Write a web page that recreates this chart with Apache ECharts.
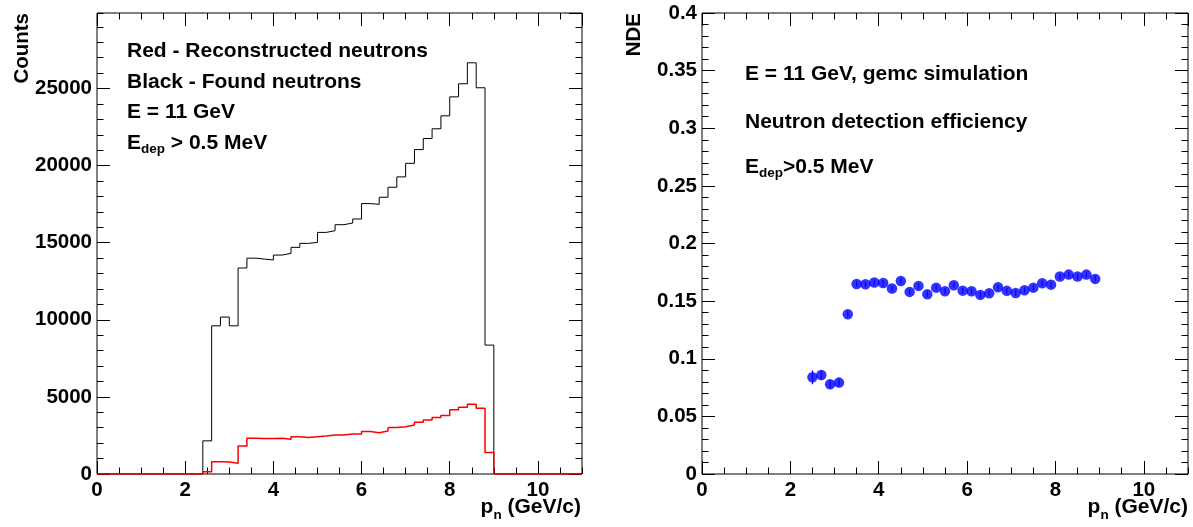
<!DOCTYPE html>
<html>
<head>
<meta charset="utf-8">
<script src="https://cdn.jsdelivr.net/npm/echarts@6/dist/echarts.min.js"></script>
<style>
  html, body { margin: 0; padding: 0; background: #ffffff; }
  #chart { width: 1193px; height: 527px; }
</style>
</head>
<body>
<div id="chart"></div>
<script>
// ---- Momentum histogram: lower bin edges (GeV/c), bins are 0.2 wide ----
const binLow = [2.4, 2.6, 2.8, 3.0, 3.2, 3.4, 3.6, 3.8, 4.0, 4.2, 4.4, 4.6, 4.8,
                5.0, 5.2, 5.4, 5.6, 5.8, 6.0, 6.2, 6.4, 6.6, 6.8, 7.0, 7.2, 7.4,
                7.6, 7.8, 8.0, 8.2, 8.4, 8.6, 8.8];
const binHigh = 9.0;

// Found neutrons (black)
const foundCounts = [2150, 9610, 10180, 9610, 13360, 14000, 13940, 13880, 14200, 14310, 14700, 14960, 15020,
                     15670, 15780, 16170, 16280, 16540, 17540, 17490, 17950, 18600, 19270, 20150, 21040, 21760,
                     22390, 23230, 24460, 25310, 26670, 25050, 8360];

// Reconstructed neutrons (red)
const recoCounts = [150, 800, 780, 690, 1820, 2320, 2300, 2300, 2320, 2250, 2420, 2360, 2420,
                    2470, 2530, 2530, 2600, 2600, 2750, 2680, 2790, 3010, 3070, 3180, 3350, 3510,
                    3660, 3790, 4160, 4330, 4520, 4260, 1390];

// ---- Neutron detection efficiency vs momentum ----
const ndeP = [2.5, 2.7, 2.9, 3.1, 3.3, 3.5, 3.7, 3.9, 4.1, 4.3, 4.5, 4.7, 4.9,
              5.1, 5.3, 5.5, 5.7, 5.9, 6.1, 6.3, 6.5, 6.7, 6.9, 7.1, 7.3, 7.5,
              7.7, 7.9, 8.1, 8.3, 8.5, 8.7, 8.9];
const ndeVal = [0.0839, 0.0859, 0.0779, 0.0793, 0.1386, 0.1649, 0.1647, 0.1661, 0.1658, 0.1609, 0.1675, 0.1580, 0.1632,
                0.1560, 0.1617, 0.1586, 0.1638, 0.1591, 0.1586, 0.1554, 0.1569, 0.1620, 0.1589, 0.1571, 0.1594, 0.1617,
                0.1655, 0.1643, 0.1713, 0.1730, 0.1713, 0.1730, 0.1693];
const ndeErr = [0.0060, 0.0040, 0.0035, 0.0035, 0.0030, 0.0025, 0.0025, 0.0025, 0.0025, 0.0025, 0.0025, 0.0025, 0.0025,
                0.0025, 0.0025, 0.0025, 0.0025, 0.0025, 0.0025, 0.0025, 0.0025, 0.0025, 0.0025, 0.0025, 0.0025, 0.0025,
                0.0025, 0.0025, 0.0025, 0.0025, 0.0025, 0.0025, 0.0025];

// Axis ranges and tick steps
const xRange = [0, 11];
const xMajor = 2, xMinor = 0.5;
const countsMax = 29900, countsMajor = 5000, countsMinor = 1000;
const ndeMax = 0.4, ndeMajor = 0.05, ndeMinor = 0.01;

const FONT = '"Liberation Sans", Arial, Helvetica, sans-serif';
const LABEL_SIZE = 20.5;

// Histogram outline: step line from lower edges, closed down to zero at both ends
function histPoints(counts) {
  const pts = [[xRange[0], 0]];
  for (let i = 0; i < binLow.length; i++) pts.push([binLow[i], counts[i]]);
  pts.push([binHigh, 0]);
  pts.push([xRange[1], 0]);
  return pts;
}

const tickStyle = { color: '#000', width: 1 };

// Axes: main (labels + long ticks) and minor (short ticks), mirrored on the opposite side
function xAxesFor(grid) {
  const base = {
    type: 'value', gridIndex: grid, min: xRange[0], max: xRange[1],
    axisLine: { show: false, onZero: false }, splitLine: { show: false }
  };
  return [
    Object.assign({}, base, {
      position: 'bottom', interval: xMajor,
      axisTick: { inside: true, length: 13, lineStyle: tickStyle },
      axisLabel: { show: true, margin: 6, color: '#000', fontFamily: FONT, fontWeight: 'bold',
                   fontSize: LABEL_SIZE, showMaxLabel: false }
    }),
    Object.assign({}, base, {
      position: 'bottom', interval: xMinor,
      axisTick: { inside: true, length: 6.5, lineStyle: tickStyle },
      axisLabel: { show: false }
    }),
    Object.assign({}, base, {
      position: 'top', interval: xMajor,
      axisTick: { inside: true, length: 13, lineStyle: tickStyle },
      axisLabel: { show: false }
    }),
    Object.assign({}, base, {
      position: 'top', interval: xMinor,
      axisTick: { inside: true, length: 6.5, lineStyle: tickStyle },
      axisLabel: { show: false }
    })
  ];
}

function yAxesFor(grid, max, major, minor, showMax) {
  const base = {
    type: 'value', gridIndex: grid, min: 0, max: max,
    axisLine: { show: false, onZero: false }, splitLine: { show: false }
  };
  return [
    Object.assign({}, base, {
      position: 'left', interval: major,
      axisTick: { inside: true, length: 13, lineStyle: tickStyle },
      axisLabel: { show: true, margin: 5, color: '#000', fontFamily: FONT, fontWeight: 'bold',
                   fontSize: LABEL_SIZE, showMaxLabel: showMax,
                   formatter: function (v) { return String(v); } }
    }),
    Object.assign({}, base, {
      position: 'left', interval: minor,
      axisTick: { inside: true, length: 6.5, lineStyle: tickStyle },
      axisLabel: { show: false }
    }),
    Object.assign({}, base, {
      position: 'right', interval: major,
      axisTick: { inside: true, length: 13, lineStyle: tickStyle },
      axisLabel: { show: false }
    }),
    Object.assign({}, base, {
      position: 'right', interval: minor,
      axisTick: { inside: true, length: 6.5, lineStyle: tickStyle },
      axisLabel: { show: false }
    })
  ];
}

// Text pieces with subscripts, laid out using measured widths
const measureCtx = document.createElement('canvas').getContext('2d');
function textWidth(str, size) {
  measureCtx.font = 'bold ' + size + 'px ' + FONT;
  return measureCtx.measureText(str).width;
}
function runText(parts, x, y, align) {
  const total = parts.reduce((w, p) => w + textWidth(p.t, p.s), 0);
  let cx = align === 'right' ? x - total : x;
  const out = [];
  parts.forEach(p => {
    out.push({
      type: 'text', x: cx, y: y + (p.dy || 0), z: 100,
      style: { text: p.t, fill: '#000', font: 'bold ' + p.s + 'px ' + FONT,
               align: 'left', verticalAlign: 'middle' }
    });
    cx += textWidth(p.t, p.s);
  });
  return out;
}
function verticalTitle(str, x, yTop) {
  return {
    type: 'text', x: x, y: yTop, rotation: Math.PI / 2, z: 100,
    style: { text: str, fill: '#000', font: 'bold ' + LABEL_SIZE + 'px ' + FONT,
             align: 'right', verticalAlign: 'middle' }
  };
}

const NOTE = 21, SUB = 13.5;
const graphics = [].concat(
  runText([{ t: 'Red - Reconstructed neutrons', s: NOTE }], 127, 51, 'left'),
  runText([{ t: 'Black - Found neutrons', s: NOTE }], 127, 82, 'left'),
  runText([{ t: 'E = 11 GeV', s: NOTE }], 127, 112, 'left'),
  runText([{ t: 'E', s: NOTE }, { t: 'dep', s: SUB, dy: 6 }, { t: ' > 0.5 MeV', s: NOTE }], 127, 143, 'left'),
  runText([{ t: 'E = 11 GeV, gemc simulation', s: NOTE }], 745, 74, 'left'),
  runText([{ t: 'Neutron detection efficiency', s: NOTE }], 745, 122, 'left'),
  runText([{ t: 'E', s: NOTE }, { t: 'dep', s: SUB, dy: 6 }, { t: '>0.5 MeV', s: NOTE }], 745, 167, 'left'),
  runText([{ t: 'p', s: NOTE }, { t: 'n', s: SUB, dy: 8 }, { t: ' (GeV/c)', s: NOTE }], 581, 507, 'right'),
  runText([{ t: 'p', s: NOTE }, { t: 'n', s: SUB, dy: 8 }, { t: ' (GeV/c)', s: NOTE }], 1188, 507, 'right'),
  [verticalTitle('Counts', 22, 13), verticalTitle('NDE', 634, 13)]
);

const xAxes = xAxesFor(0).concat(xAxesFor(1));          // indices 0-3 left panel, 4-7 right panel
const yAxes = yAxesFor(0, countsMax, countsMajor, countsMinor, false)
  .concat(yAxesFor(1, ndeMax, ndeMajor, ndeMinor, true)); // indices 0-3 left panel, 4-7 right panel

const option = {
  animation: false,
  backgroundColor: '#ffffff',
  grid: [
    { left: 97, top: 13, width: 485, height: 461, show: true, borderColor: '#000', borderWidth: 1, backgroundColor: 'transparent' },
    { left: 702, top: 13, width: 486, height: 461, show: true, borderColor: '#000', borderWidth: 1, backgroundColor: 'transparent' }
  ],
  xAxis: xAxes,
  yAxis: yAxes,
  graphic: graphics,
  series: [
    {
      name: 'Found neutrons', type: 'line', xAxisIndex: 0, yAxisIndex: 0,
      step: 'end', showSymbol: false, symbol: 'none', clip: true,
      lineStyle: { color: '#000000', width: 1 },
      data: histPoints(foundCounts), z: 3
    },
    {
      name: 'Reconstructed neutrons', type: 'line', xAxisIndex: 0, yAxisIndex: 0,
      step: 'end', showSymbol: false, symbol: 'none', clip: true,
      lineStyle: { color: '#ff0000', width: 1.5 },
      data: histPoints(recoCounts), z: 4
    },
    {
      name: 'NDE errors', type: 'custom', xAxisIndex: 4, yAxisIndex: 4,
      data: ndeP.map((p, i) => [p, ndeVal[i] - ndeErr[i], ndeVal[i] + ndeErr[i]]),
      renderItem: function (params, api) {
        const lo = api.coord([api.value(0), api.value(1)]);
        const hi = api.coord([api.value(0), api.value(2)]);
        return { type: 'line', shape: { x1: lo[0], y1: lo[1], x2: hi[0], y2: hi[1] },
                 style: { stroke: '#0000ff', lineWidth: 1.2 } };
      },
      z: 4
    },
    {
      name: 'NDE', type: 'scatter', xAxisIndex: 4, yAxisIndex: 4,
      symbol: 'circle', symbolSize: 10.5,
      itemStyle: { color: '#0000ff' },
      data: ndeP.map((p, i) => [p, ndeVal[i]]), z: 5
    }
  ]
};

const chart = echarts.init(document.getElementById('chart'), null, { renderer: 'canvas' });
chart.setOption(option);
</script>
</body>
</html>
